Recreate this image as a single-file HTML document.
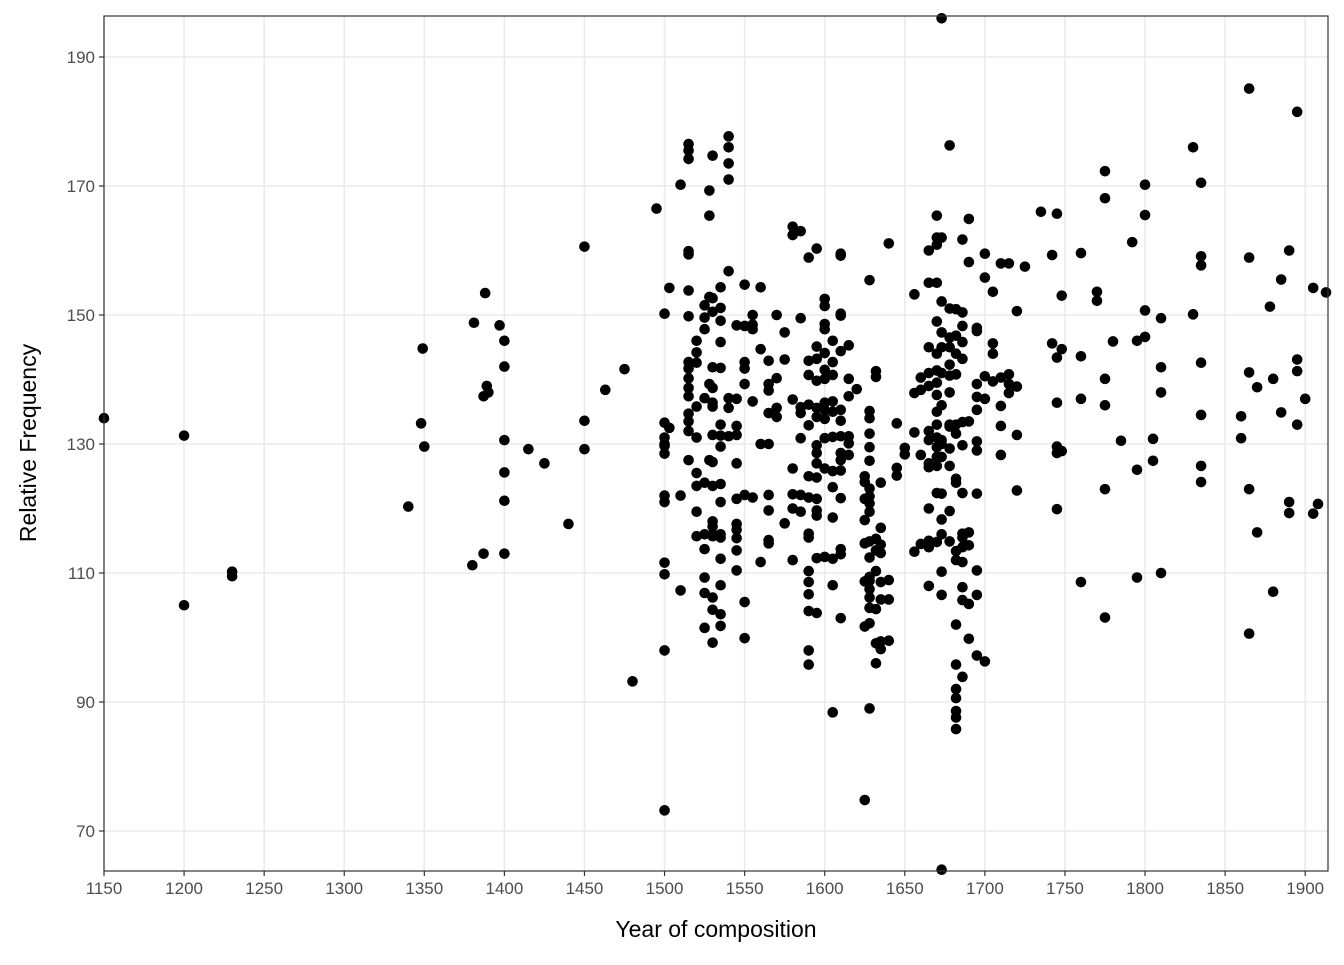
<!DOCTYPE html>
<html><head><meta charset="utf-8"><style>
html,body{margin:0;padding:0;background:#fff;}
svg text{font-family:"Liberation Sans",sans-serif;}
</style></head><body>
<svg id="chart" width="1344" height="960" xmlns="http://www.w3.org/2000/svg">
<rect x="0" y="0" width="1344" height="960" fill="#fff"/>
<g id="grid"></g>
<g id="points"></g>
<rect x="104" y="16" width="1224" height="855" fill="none" stroke="#333" stroke-width="1.2"/>
<g id="xaxis"></g>
<g id="yaxis"></g>
<text x="716" y="937" text-anchor="middle" font-size="23" fill="#000">Year of composition</text>
<text transform="translate(36,443) rotate(-90)" text-anchor="middle" font-size="23" fill="#000">Relative Frequency</text>
</svg>
<script>
const xTicks=[1150,1200,1250,1300,1350,1400,1450,1500,1550,1600,1650,1700,1750,1800,1850,1900];
const yTicks=[70,90,110,130,150,170,190];
const groupYears=[1150,1200,1230,1340,1348,1349,1350,1380,1381,1387,1388,1389,1390,1397,1400,1415,1425,1440,1450,1463,1475,1480,1495,
1500,1503,1510,1515,1520,1525,1528,1530,1535,1540,1545,1550,1555,1560,1565,1570,1575,1580,1585,1590,1595,1600,1605,1610,1615,1620,1625,1628,1632,1635,1640,1645,1650,1656,1660,1665,1670,1673,1678,1682,1686,1690,1695,1700,1705,1710,1715,1720,1725,1735,1742,1745,1748,1760,1770,1775,1780,1785,1792,1795,1800,1805,1810,1830,1835,1860,1865,1870,1878,1880,1885,1890,1895,1900,1905,1908,1913];
const groupFreqs=[[134],[131.3,105],[110.2,109.5],[120.3],[133.2],[144.8],[129.6],[111.2],[148.8],[137.4,113],[153.4],[139],[138],[148.4],[146,142,130.6,125.6,121.2,113],[129.2],[127],[117.6],[160.6,133.6,129.2],[138.4],[141.6],[93.2],[166.5],
[131,128.5,130,150.2,133.3,129.7,111.6,109.8,73.2,121,122,98],[132.5,154.2],[170.2,107.3,122],
[176.5,175.5,174.2,159.9,159.4,153.8,149.8,142.7,141.7,140.2,138.7,137.4,134.7,133.5,127.5,132],
[146,144.2,142.6,135.8,125.5,115.7,123.5,119.5,131],
[151.5,149.6,147.8,137.1,124,116,113.7,109.3,106.9,101.5],
[169.3,165.4,152.8,139.3,127.5],
[174.7,152.6,150.5,141.9,138.7,136.4,135.8,131.4,127.2,123.5,118,117.2,116,115.7,99.2,104.3,106.2],
[154.3,151.1,149.1,145.8,141.8,133,131.3,129.6,123.8,121,116,115.5,112.2,108.1,103.6,101.8],
[177.7,176,173.5,171,156.8,137.1,135.6,131.2],
[148.4,132.8,131.4,127,117.6,116.7,115.4,113.5,110.4,137,121.5],
[154.7,148.3,142.7,141.7,139.3,122.1,105.5,99.9],
[150,148.5,147.8,136.6,121.7],[154.3,144.7,111.7,130],
[142.9,139.3,138.3,134.8,130,122.1,119.7,115.1,114.6],[150,140.2,135.6,134.2],[147.3,143.1,117.7],
[163.7,162.4,136.9,126.2,122.2,120,112],[163,149.5,135.7,134.8,130.9,122.1,119.5],
[158.9,142.9,140.7,136.1,132.9,125,121.7,116.1,115.5,110.3,108.6,98,95.8,104.1,106.7],
[160.3,145.1,143.2,139.8,135.6,134.2,129.8,128.6,127,124.8,121.5,119.7,118.9,112.3,103.8],
[151.4,147.8,144.1,141.5,140.1,136.4,135.3,133.9,130.9,126.2,112.5,148.6,152.5],
[146,142.7,140.7,136.6,135,131.1,125.8,123.3,118.6,112.2,108.1,88.4],
[159.5,159.2,150.2,149.9,144.4,135.3,133.6,131.2,128.6,127.5,125.9,121.6,113.7,112.9,103],
[145.3,140.1,137.4,131.2,130.1,128.3],[138.5],
[125,124.1,121.5,118.2,114.6,108.7,101.7,74.8],
[155.4,135.1,134,131.6,129.5,127.4,123.1,121.9,120.8,119.5,114.9,112.4,109.4,108.8,107.5,106.2,104.6,102.2,89],
[141.3,140.4,115.3,113.5,110.3,104.4,99.1,96],
[124,117,114.4,113.1,108.6,105.9,99.4,98.2],[161.1,108.9,105.9,99.5],[133.2,126.3,125.1],[129.4,128.4],
[153.2,137.9,131.8,113.3],[140.3,138.4,128.3,114.5],
[160,155,145,141,139,132,130.6,127,126.4,120,115,108,114],
[165.4,162,160.9,155,149,144,141.4,139.5,137.6,135,133,131,129.5,128,126.6,122.4,114.8],
[196,162,152.1,147.3,145,141,136,130.6,130,128,122.3,118.3,116,110.2,106.6,64],
[176.3,151,146.5,145,142.3,140.6,138,133,132.7,129.3,126.6,119.6,114.9],
[150.9,146.8,144,140.8,133,131.6,124.6,124,113.4,112,102,95.8,92,90.6,88.6,87.6,85.8],
[161.7,150.4,148.3,145.8,143.2,133.4,129.8,122.4,116.1,115.5,114,111.7,107.8,105.8,93.9],
[164.9,158.2,133.5,116.3,114.3,105.2,99.8],
[148,147.5,139.3,137.3,135.3,130.4,129,122.3,110.4,106.6,97.2],
[159.5,155.8,137,140.5,96.3],[153.6,145.6,144,139.7],[158,140.3,135.9,132.8,128.3],[158,140.8,139.3,137.9],
[150.6,138.9,131.4,122.8],[157.5],[166],[159.3,145.6],[165.7,143.4,136.4,129.6,128.6,119.9],[153,144.7,128.9],
[159.6,143.6,137,108.6],[152.2,153.6],[172.3,168.1,140.1,136,123,103.1],[145.9],[130.5],[161.3],[146,126,109.3],
[165.5,170.2,146.6,150.7],[130.8,127.4],[149.5,141.9,138,110],[176,150.1],
[170.5,159.1,157.7,142.6,134.5,126.6,124.1],[134.3,130.9],[185.1,158.9,141.1,123,100.6],[138.8,116.3],[151.3],
[140.1,107.1],[155.5,134.9],[160,121,119.3],[181.5,143.1,141.3,133],[137],[154.2,119.2],[120.7],[153.5]];

const NS="http://www.w3.org/2000/svg";
const X0=104,X1=1328,Y0=16,Y1=871;
function xs(v){return 104+(v-1150)*1.6016;}
function ys(v){return 57+(190-v)*6.45;}
function mk(tag,attrs,parent){const e=document.createElementNS(NS,tag);for(const k in attrs)e.setAttribute(k,attrs[k]);parent.appendChild(e);return e;}
const grid=document.getElementById('grid'),pts=document.getElementById('points'),xa=document.getElementById('xaxis'),ya=document.getElementById('yaxis');
xTicks.forEach(t=>{
  const x=xs(t);
  const l=mk('line',{x1:x,x2:x,y1:Y0,y2:Y1,stroke:'#ebebeb','stroke-width':1.6},grid);
  
  
  const tk=mk('line',{x1:x,x2:x,y1:Y1,y2:Y1+5,stroke:'#333','stroke-width':1.2},xa);
  
  
  const tx=mk('text',{x:x,y:Y1+23,'text-anchor':'middle','font-size':17,fill:'#4d4d4d'},xa);
  tx.textContent=t;
  
  
});
yTicks.forEach(t=>{
  const y=ys(t);
  const l=mk('line',{x1:X0,x2:X1,y1:y,y2:y,stroke:'#ebebeb','stroke-width':1.6},grid);
  
  
  const tk=mk('line',{x1:X0-5,x2:X0,y1:y,y2:y,stroke:'#333','stroke-width':1.2},ya);
  
  
  const tx=mk('text',{x:X0-9,y:y+6,'text-anchor':'end','font-size':17,fill:'#4d4d4d'},ya);
  tx.textContent=t;
  
  
});
groupYears.forEach((yr,i)=>{
  groupFreqs[i].forEach(f=>{
    const c=mk('circle',{cx:xs(yr),cy:ys(f),r:5.3,fill:'#000'},pts);
    
    
  });
});
</script>
</body></html>
